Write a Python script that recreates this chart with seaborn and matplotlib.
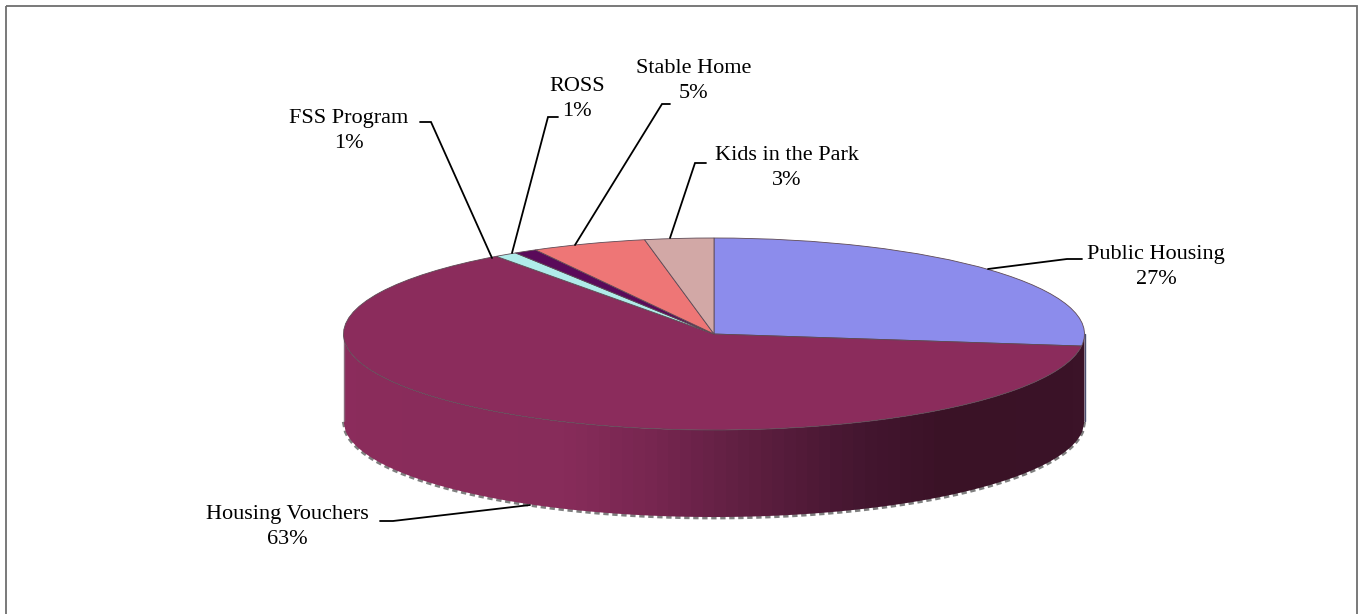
import numpy as np
import matplotlib
matplotlib.use("Agg")
import matplotlib.pyplot as plt
import seaborn as sns
from matplotlib.colors import LinearSegmentedColormap
from matplotlib.patches import Polygon, Rectangle
from matplotlib.transforms import Affine2D

# Program shares, percent of the total budget
programs = ["Public Housing", "Housing Vouchers", "FSS Program", "ROSS", "Stable Home", "Kids in the Park"]
shares = [27, 63, 1, 1, 5, 3]
slice_colors = ["#8C8CEC", "#8B2C5C", "#B0ECEA", "#5A0A5A", "#EE7676", "#D2A8A6"]

W, H = 1359, 614
CX, CY = 714, 334      # pie centre in pixels
RX, RY = 370.5, 96     # pie semi-axes in pixels
DEPTH = 87 / RY        # height of the side wall in data units

sns.set_theme(style="white")
plt.rcParams["font.family"] = ["Liberation Serif", "DejaVu Serif"]

fig = plt.figure(figsize=(W / 100, H / 100), dpi=100, facecolor="white")
ax = fig.add_axes([0, 0, 1, 1])

wedges, _ = ax.pie(
    shares,
    colors=sns.color_palette(slice_colors),
    startangle=90,
    counterclock=False,
    radius=1,
    wedgeprops={"edgecolor": "#5E4A55", "linewidth": 0.6, "zorder": 5},
)
ax.axis("off")

# Side wall of the disc: shaded from the lit left side to the dark right side
xs = np.linspace(-1, 1, 361)
front = -np.sqrt(1 - xs ** 2)
wall_outline = np.column_stack([
    np.r_[xs, xs[::-1]],
    np.r_[front, front[::-1] - DEPTH],
])
shade = LinearSegmentedColormap.from_list(
    "wall",
    [(0.0, "#8B2C5C"), (0.30, "#872C5A"), (0.42, "#762650"), (0.55, "#5E1F40"),
     (0.70, "#441630"), (0.82, "#3A1226"), (1.0, "#3B1328")],
    N=64,
)
wall = ax.imshow(
    np.linspace(0, 1, 256)[None, :], cmap=shade, aspect="auto", interpolation="nearest",
    extent=(-1, 1, -1 - DEPTH, 0), zorder=2,
)
wall.set_clip_path(Polygon(wall_outline, closed=True, transform=ax.transData))
ax.set_aspect("auto")
ax.set_xlim(-CX / RX, (W - CX) / RX)
ax.set_ylim(-(H - CY) / RY, CY / RY)

# Grainy shadow along the lower rim and thin edges at both ends of the wall
ax.plot(xs, front - DEPTH - 0.008, color="#7F7F7F", lw=2.4, ls=(0, (1.6, 1.1)), zorder=1)
ax.plot([-1, -1], [0, -DEPTH], color="#8A6A7C", lw=1.0, zorder=3)
ax.plot([1, 1], [0, -DEPTH], color="#4A4F70", lw=1.0, zorder=3)

# Layout in pixel coordinates, y measured downward from the top edge
px = Affine2D().scale(1 / W, -1 / H).translate(0, 1) + fig.transFigure

label_centres = [(1156, 267), (287, 527), (349, 131), (577, 99), (694, 81), (787, 168)]
leaders = [
    [(988, 269), (1067, 259), (1082, 259)],
    [(530, 505), (393, 521), (380, 521)],
    [(420, 122), (431, 122), (492, 258)],
    [(558, 117), (548, 117), (512, 253)],
    [(670, 104), (662, 104), (575, 245)],
    [(706, 163), (695, 163), (670, 238)],
]

for name, share, centre, leader in zip(programs, shares, label_centres, leaders):
    ax.text(*centre, f"{name}\n{share}%", transform=px, ha="center", va="center",
            fontsize=16, color="black", linespacing=1.4, zorder=8)
    line = np.array(leader)
    ax.plot(line[:, 0], line[:, 1], transform=px, color="black", lw=1.3, zorder=7,
            solid_joinstyle="miter")

# Chart area frame, running off the lower edge
fig.add_artist(Rectangle((6, 6), 1351, 620, transform=px, fill=False,
                         edgecolor="#6E6E6E", linewidth=1.3))

fig.savefig("out.png", dpi=100, facecolor="white")
